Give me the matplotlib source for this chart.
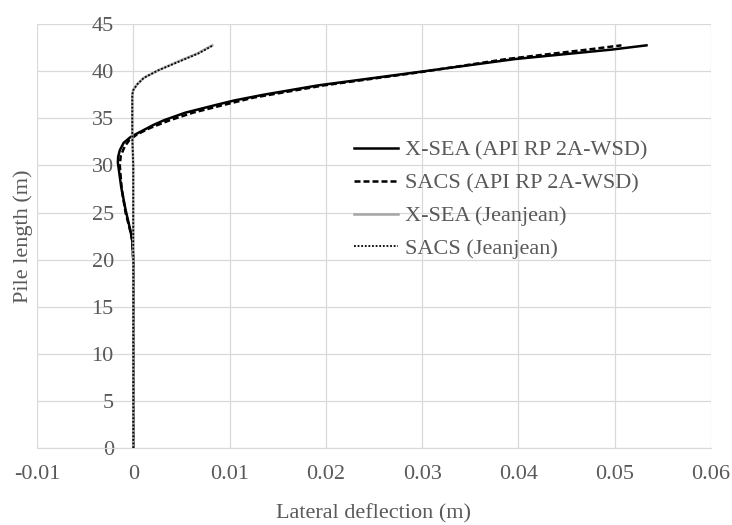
import matplotlib.pyplot as plt

# X-SEA (API RP 2A-WSD)
depth_xsea_api = [0, 5, 10, 15, 20, 22, 23.1, 25.3, 27.7, 30.3, 30.9, 31.6, 32.4, 33.0, 33.5,
                  34.3, 34.8, 35.6, 36.4, 36.9, 37.5, 38.5, 39.9, 41.3, 42.3, 42.75]
defl_xsea_api = [0, 0, 0, 0, 0, -0.0001, -0.0003, -0.0008, -0.00125, -0.0016, -0.00157, -0.0014,
                 -0.001, -0.0003, 0.0006, 0.0021, 0.0032, 0.0054, 0.0085, 0.0105, 0.0135, 0.0192,
                 0.0295, 0.0397, 0.0497, 0.0533]

# SACS (API RP 2A-WSD)
depth_sacs_api = [0, 10, 20, 22, 23, 25, 27.5, 30, 31, 32, 32.7, 33.3, 34, 34.8, 35.6, 36.4,
                  37.2, 38.5, 39.9, 41.3, 42.3, 42.75]
defl_sacs_api = [0, 0, 0, -0.0001, -0.0003, -0.0008, -0.0012, -0.0014, -0.0013, -0.0009, -0.0004,
                 0.0004, 0.0018, 0.0038, 0.0062, 0.0093, 0.0125, 0.0198, 0.0298, 0.0388, 0.0472, 0.0507]

# X-SEA (Jeanjean)
depth_xsea_jj = [0, 10, 20, 30, 33, 36, 37.5, 38.0, 38.6, 39.3, 40.1, 41.0, 41.9, 42.75]
defl_xsea_jj = [0, 0, 0, 0, -0.0001, -0.0001, -0.0001, 0.0, 0.0004, 0.0011, 0.0026, 0.0046,
                0.0067, 0.0082]

# SACS (Jeanjean)
depth_sacs_jj = [0, 10, 20, 30, 33, 36, 37.5, 38.0, 38.6, 39.3, 40.1, 41.0, 41.9, 42.75]
defl_sacs_jj = [0, 0, 0, 0, -0.0001, -0.0001, -0.0001, 0.0, 0.0004, 0.0011, 0.0026, 0.0047,
                0.0068, 0.0083]

x_ticks = [-0.01, 0, 0.01, 0.02, 0.03, 0.04, 0.05, 0.06]
x_labels = ['-0.01', '0', '0.01', '0.02', '0.03', '0.04', '0.05', '0.06']
y_ticks = [0, 5, 10, 15, 20, 25, 30, 35, 40, 45]

text_color = '#595959'
fs = 16
plt.rcParams['font.family'] = 'Liberation Serif'
plt.rcParams['font.size'] = fs

fig = plt.figure(figsize=(7.32, 5.25), dpi=100)
ax = fig.add_axes([0.0505, 0.1467, 0.9208, 0.8073])

ax.plot(defl_xsea_api, depth_xsea_api, color='black', lw=1.8, label='X-SEA (API RP 2A-WSD)')
ax.plot(defl_sacs_api, depth_sacs_api, color='black', lw=1.8, dashes=(2.4, 1.2),
        label='SACS (API RP 2A-WSD)')
ax.plot(defl_xsea_jj, depth_xsea_jj, color='#a6a6a6', lw=1.8, label='X-SEA (Jeanjean)')
ax.plot(defl_sacs_jj, depth_sacs_jj, color='black', lw=1.3, linestyle=(0, (1, 1)),
        label='SACS (Jeanjean)')

ax.set_xlim(-0.01, 0.06)
ax.set_ylim(0, 45)
ax.set_xticks(x_ticks)
ax.set_xticklabels(x_labels)
ax.set_yticks(y_ticks)
ax.grid(True, color='#d9d9d9', lw=0.9)
ax.set_axisbelow(True)

# vertical axis crosses at x = 0, like the Excel original
ax.spines['left'].set_position(('data', 0))
ax.spines['left'].set_visible(False)
for s in ['top', 'right']:
    ax.spines[s].set_visible(False)
ax.spines['bottom'].set_color('#d9d9d9')
ax.tick_params(axis='both', length=0, colors=text_color, labelsize=fs)
ax.tick_params(axis='x', pad=12)
ax.tick_params(axis='y', pad=14)

ax.set_xlabel('Lateral deflection (m)', color=text_color, fontsize=fs, labelpad=15)
ax.set_ylabel('Pile length (m)', color=text_color, fontsize=fs)
ax.yaxis.set_label_coords(-0.006, 0.5)

leg = ax.legend(loc='upper left', bbox_to_anchor=(0.47, 0.726), frameon=False,
                handlelength=2.0, handletextpad=0.3, labelspacing=0.55, fontsize=fs,
                borderaxespad=0, borderpad=0)
for t in leg.get_texts():
    t.set_color(text_color)

fig.savefig('out.png', dpi=100)
